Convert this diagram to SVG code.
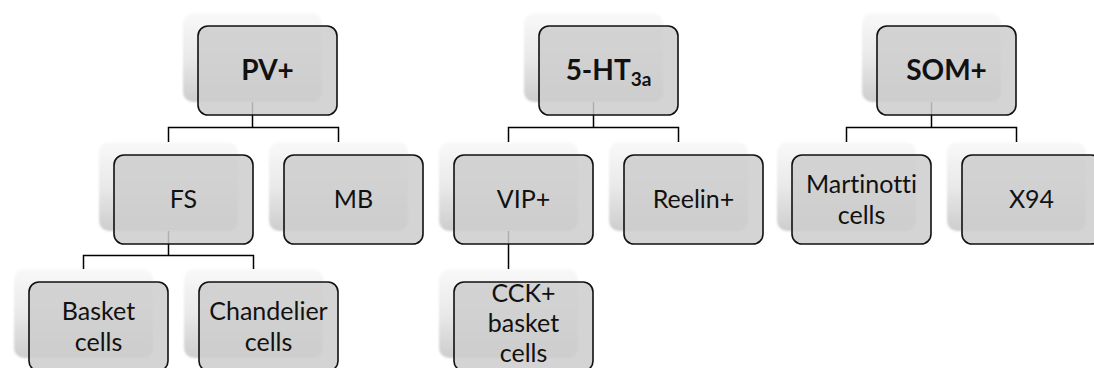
<svg xmlns="http://www.w3.org/2000/svg" width="1094" height="368" viewBox="0 0 1094 368">
<defs>
<linearGradient id="sg" x1="0" y1="0" x2="0" y2="1">
<stop offset="0" stop-color="#f9f9f9"/>
<stop offset="0.5" stop-color="#e9e9e9"/>
<stop offset="1" stop-color="#cdcdcd"/>
</linearGradient>
<filter id="blur" x="-10%" y="-10%" width="120%" height="125%">
<feGaussianBlur stdDeviation="1.2"/>
</filter>
<style>
.sh{fill:url(#sg);filter:url(#blur)}
.fr{fill:#cdcdcd;fill-opacity:0.86;stroke:#111;stroke-width:1.6}
.cn{fill:none;stroke:#000;stroke-width:1.5}
.t{font-family:Lato,"Open Sans",sans-serif;font-size:25px;fill:#111;text-anchor:middle;font-variant-ligatures:none}
.b{font-weight:bold;font-size:28px}
</style>
</defs>
<rect width="1094" height="368" fill="#fff"/>
<g id="shadows">
<rect class="sh" x="183" y="13" width="139" height="89" rx="10"/>
<rect class="sh" x="524" y="13" width="139" height="89" rx="10"/>
<rect class="sh" x="862" y="13" width="139" height="89" rx="10"/>
<rect class="sh" x="99" y="142" width="139" height="89" rx="10"/>
<rect class="sh" x="269" y="142" width="139" height="89" rx="10"/>
<rect class="sh" x="439" y="142" width="139" height="89" rx="10"/>
<rect class="sh" x="609" y="142" width="139" height="89" rx="10"/>
<rect class="sh" x="777" y="142" width="139" height="89" rx="10"/>
<rect class="sh" x="947" y="142" width="139" height="89" rx="10"/>
<rect class="sh" x="14" y="269" width="139" height="89" rx="10"/>
<rect class="sh" x="184" y="269" width="139" height="89" rx="10"/>
<rect class="sh" x="439" y="269" width="139" height="89" rx="10"/>
</g>
<g id="connectors">
<path class="cn" d="M252.5 102V127.5M168.5 142V127.5H338.5V142"/>
<path class="cn" d="M593.5 102V127.5M508.5 142V127.5H678.5V142"/>
<path class="cn" d="M931.5 102V127.5M846.5 142V127.5H1016.5V142"/>
<path class="cn" d="M168.5 231V255.5M83.5 269V255.5H253.5V269"/>
<path class="cn" d="M508.5 231V269"/>
</g>
<g id="pv">
<rect class="fr" x="198" y="26" width="139" height="89" rx="10"/>
<text class="t b" x="267.5" y="80">PV+</text>
</g>
<g id="ht3a">
<rect class="fr" x="539" y="26" width="139" height="89" rx="10"/>
<text class="t b" x="608.5" y="80">5-HT<tspan font-size="19" dy="6">3a</tspan></text>
</g>
<g id="som">
<rect class="fr" x="877" y="26" width="139" height="89" rx="10"/>
<text class="t b" x="946.5" y="80">SOM+</text>
</g>
<g id="fs">
<rect class="fr" x="114" y="155" width="139" height="89" rx="10"/>
<text class="t" x="183.5" y="208">FS</text>
</g>
<g id="mb">
<rect class="fr" x="284" y="155" width="139" height="89" rx="10"/>
<text class="t" x="353.5" y="208">MB</text>
</g>
<g id="vip">
<rect class="fr" x="454" y="155" width="139" height="89" rx="10"/>
<text class="t" x="523.5" y="208">VIP+</text>
</g>
<g id="reelin">
<rect class="fr" x="624" y="155" width="139" height="89" rx="10"/>
<text class="t" x="693.5" y="208">Reelin+</text>
</g>
<g id="martinotti">
<rect class="fr" x="792" y="155" width="139" height="89" rx="10"/>
<text class="t" x="861.5" y="193">Martinotti</text>
<text class="t" x="861.5" y="224">cells</text>
</g>
<g id="x94">
<rect class="fr" x="962" y="155" width="139" height="89" rx="10"/>
<text class="t" x="1031.5" y="208">X94</text>
</g>
<g id="basket">
<rect class="fr" x="29" y="282" width="139" height="89" rx="10"/>
<text class="t" x="98.5" y="320">Basket</text>
<text class="t" x="98.5" y="351">cells</text>
</g>
<g id="chandelier">
<rect class="fr" x="199" y="282" width="139" height="89" rx="10"/>
<text class="t" x="268.5" y="320">Chandelier</text>
<text class="t" x="268.5" y="351">cells</text>
</g>
<g id="cck">
<rect class="fr" x="454" y="282" width="139" height="89" rx="10"/>
<text class="t" x="523.5" y="302">CCK+</text>
<text class="t" x="523.5" y="332">basket</text>
<text class="t" x="523.5" y="362">cells</text>
</g>
</svg>
